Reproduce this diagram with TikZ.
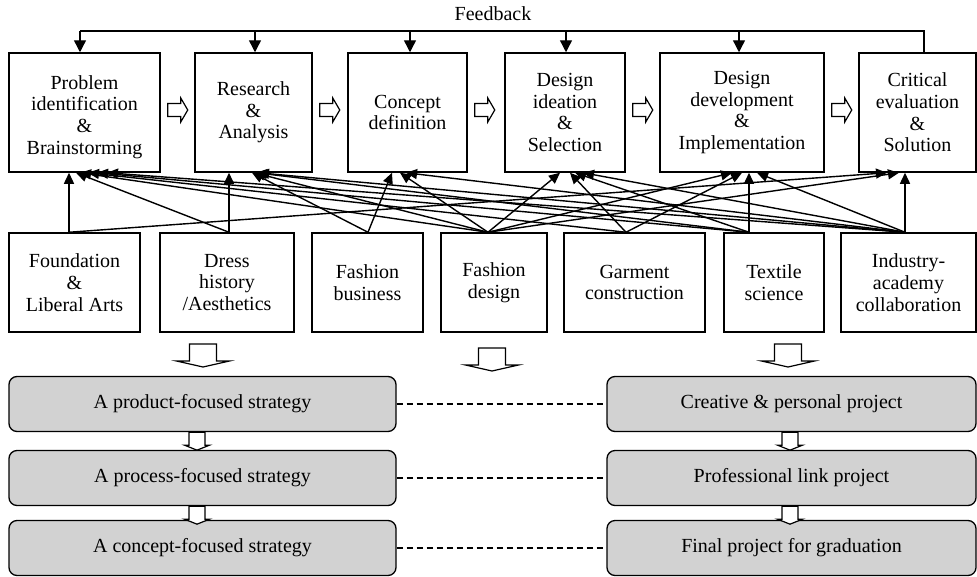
\documentclass[tikz,border=0pt]{standalone}
\usepackage{fontspec}
\setmainfont{Liberation Serif}
\usetikzlibrary{arrows.meta,calc}
\newcommand\hollowR[1]{\draw[hollow] ($(#1.east)+(7,-9)$) -- ++(13,0) -- ++(0,-5.5) -- ++(7,12) -- ++(-7,12) -- ++(0,-5.5) -- ++(-13,0) -- cycle;}
\newcommand\smallDown[2]{\draw[hollow] ([xshift=#2]#1.south) -- ++(16,0) -- ++(0,13) -- ++(4.5,0) -- ++(-12.5,5) -- ++(-12.5,-5) -- ++(4.5,0) -- cycle;}
\newcommand\bigDown[1]{\draw[hollow] ($(#1)+(-13.5,0)$) -- ++(27,0) -- ++(0,17) -- ++(13,0) -- ++(-26.5,6) -- ++(-26.5,-6) -- ++(13,0) -- cycle;}
\newcommand\linkit[4]{\draw[conn] ([xshift=#2]#1.north) -- ([xshift=#4]#3.south);}
\begin{document}
\begin{tikzpicture}[x=1pt,y=-1pt,
  every node/.style={font=\fontsize{20}{21.7}\selectfont, inner sep=0pt},
  stage/.style={draw, line width=1.5pt, align=center, minimum height=119pt},
  subj/.style={draw, line width=1.5pt, align=center, minimum height=99pt},
  strat/.style={draw, line width=1.3pt, fill=gray!35, rounded corners=8pt, minimum height=55pt},
  conn/.style={line width=1.4pt, -{Triangle[length=11pt,width=10pt]}},
  fb/.style={line width=1.4pt, -{Triangle[length=12pt,width=12pt]}},
  hollow/.style={draw, line width=1.2pt, fill=white, line join=miter},
  dashline/.style={line width=1.5pt, dash pattern=on 6pt off 4pt},
]
\useasboundingbox (0,0) rectangle (977,576);

% stages
\node[stage, minimum width=151pt] (P1) at (84.5,112.5) {};
\node[align=center] (P1t) at (84.5,117) {Problem\\identification\\\&\\Brainstorming};
\node[stage, minimum width=117pt] (P2) at (253.5,112.5) {Research\\\&\\Analysis};
\node[stage, minimum width=119pt] (P3) at (407.5,112.5) {Concept\\definition};
\node[stage, minimum width=120pt] (P4) at (565,112.5) {Design\\ideation\\\&\\Selection};
\node[stage, minimum width=164pt] (P5) at (742,112.5) {Design\\development\\\&\\Implementation};
\node[stage, minimum width=117pt] (P6) at (917.5,112.5) {Critical\\evaluation\\\&\\Solution};

\hollowR{P1}\hollowR{P2}\hollowR{P3}\hollowR{P4}\hollowR{P5}

% feedback
\node (fbl) at (493,14) {Feedback};
\coordinate (fbR) at (924,31);
\coordinate (fbL) at (80,31);
\coordinate (fb2) at (255,31);
\coordinate (fb3) at (410,31);
\coordinate (fb4) at (566,31);
\coordinate (fb5) at (739,31);
\draw[line width=1.4pt] ([xshift=6.5]P6.north) -- (fbR) -- (fbL);
\draw[fb] (fbL) -- (fbL |- P1.north);
\draw[fb] (fb2) -- (fb2 |- P2.north);
\draw[fb] (fb3) -- (fb3 |- P3.north);
\draw[fb] (fb4) -- (fb4 |- P4.north);
\draw[fb] (fb5) -- (fb5 |- P5.north);

% subjects
\node[subj, minimum width=131pt] (S1) at (74.5,282.5) {Foundation\\\&\\Liberal Arts};
\node[subj, minimum width=134pt] (S2) at (227,282.5) {Dress\\history\\/Aesthetics};
\node[subj, minimum width=111pt] (S3) at (367.5,282.5) {Fashion\\business};
\node[subj, minimum width=106pt] (S4) at (494,282.5) {Fashion\\design};
\node[subj, minimum width=141pt] (S5) at (634.5,282.5) {Garment\\construction};
\node[subj, minimum width=100pt] (S6) at (774,282.5) {Textile\\science};
\node[subj, minimum width=135pt] (S7) at (908.5,282.5) {Industry-\\academy\\collaboration};

% connectors
\linkit{S1}{-5.5}{P1}{-15.5}
\linkit{S1}{-5.5}{P6}{-30.5}
\linkit{S2}{2}{P1}{-8.5}
\linkit{S2}{2}{P2}{-24.5}
\linkit{S3}{0.5}{P2}{-1.5}
\linkit{S3}{0.5}{P3}{-15.5}
\linkit{S4}{-6}{P1}{-4.5}
\linkit{S4}{-6}{P2}{0.5}
\linkit{S4}{-6}{P3}{-7.5}
\linkit{S4}{-6}{P4}{-5}
\linkit{S4}{-6}{P5}{-10}
\linkit{S4}{-6}{P6}{-18.5}
\linkit{S5}{-8.5}{P1}{3.5}
\linkit{S5}{-8.5}{P4}{5}
\linkit{S5}{-8.5}{P5}{0}
\linkit{S6}{-25}{P1}{12.5}
\linkit{S6}{-25}{P2}{2.5}
\linkit{S6}{-25}{P4}{10}
\linkit{S6}{-25}{P5}{7}
\linkit{S7}{-3.5}{P1}{22.5}
\linkit{S7}{-3.5}{P2}{4.5}
\linkit{S7}{-3.5}{P3}{-1.5}
\linkit{S7}{-3.5}{P4}{18}
\linkit{S7}{-3.5}{P5}{15}
\linkit{S7}{-3.5}{P6}{-12.5}

% big down arrows
\coordinate (d1) at (203,344);
\coordinate (d2) at (492,348);
\coordinate (d3) at (788,344);
\bigDown{d1}\bigDown{d2}\bigDown{d3}

% strategies
\node[strat, minimum width=387pt] (L1) at (202.5,404) {A product-focused strategy};
\node[strat, minimum width=387pt] (L2) at (202.5,478) {A process-focused strategy};
\node[strat, minimum width=387pt] (L3) at (202.5,548) {A concept-focused strategy};
\node[strat, minimum width=369pt] (R1) at (791.5,404) {Creative \& personal project};
\node[strat, minimum width=369pt] (R2) at (791.5,478) {Professional link project};
\node[strat, minimum width=369pt] (R3) at (791.5,548) {Final project for graduation};

\smallDown{L1}{-13.5}\smallDown{L2}{-13.5}
\smallDown{R1}{-9.5}\smallDown{R2}{-9.5}

\draw[dashline] (L1.east) -- (R1.west);
\draw[dashline] (L2.east) -- (R2.west);
\draw[dashline] (L3.east) -- (R3.west);
\end{tikzpicture}
\end{document}
